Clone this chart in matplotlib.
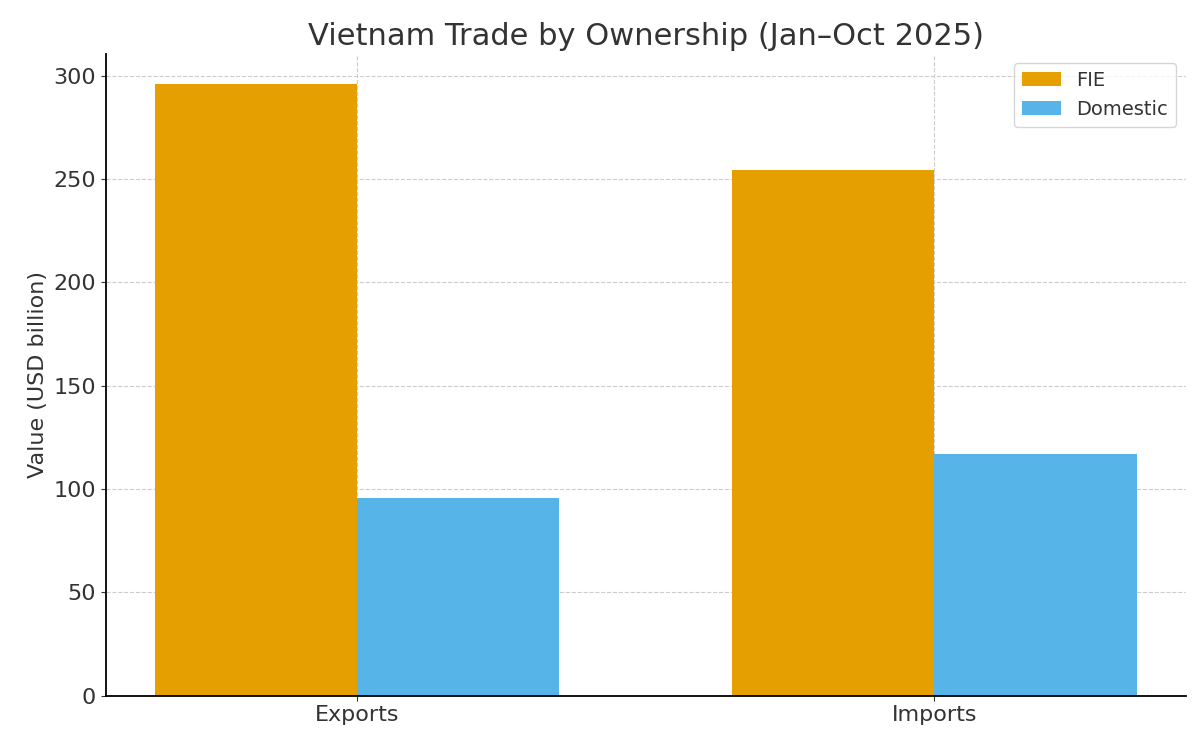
import numpy as np
import matplotlib
matplotlib.use('Agg')
import matplotlib.pyplot as plt

categories = ['Exports', 'Imports']
fie = [296.0, 254.5]
domestic = [95.5, 117.0]

fig, ax = plt.subplots(figsize=(12, 7.44), dpi=100)
x = np.arange(len(categories))
w = 0.35
ax.bar(x - w/2, fie, w, color='#E69F00', label='FIE')
ax.bar(x + w/2, domestic, w, color='#56B4E9', label='Domestic')
ax.set_xticks(x)
ax.set_xticklabels(categories)
ax.set_ylabel('Value (USD billion)', fontsize=16, color='#333333')
ax.set_title('Vietnam Trade by Ownership (Jan\u2013Oct 2025)', fontsize=22, color='#333333')
ax.tick_params(labelsize=16, colors='#333333')
ax.grid(True, ls='--', lw=0.8, color='#cccccc')
ax.set_axisbelow(True)
for s in ['top', 'right']:
    ax.spines[s].set_visible(False)
ax.spines['left'].set_linewidth(1.3)
ax.spines['bottom'].set_linewidth(1.3)
leg = ax.legend(fontsize=14, loc='upper right')
for t in leg.get_texts():
    t.set_color('#333333')
fig.subplots_adjust(left=0.088, right=0.988, bottom=0.065, top=0.928)
fig.savefig('out.png')
